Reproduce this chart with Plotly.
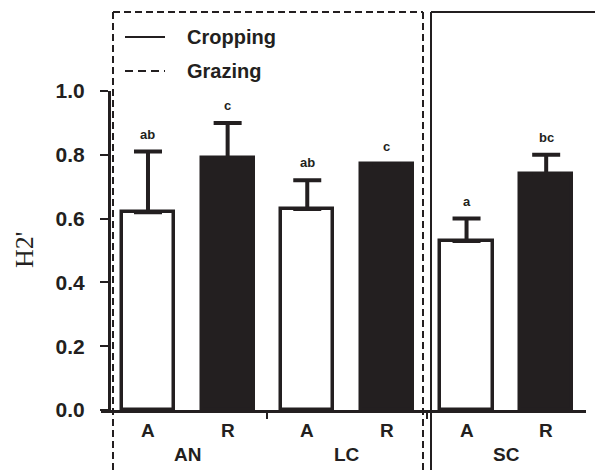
import plotly.graph_objects as go

# Data
treatments = ["A", "R", "A", "R", "A", "R"]
sites = ["AN", "LC", "SC"]
h2_values = [0.62, 0.79, 0.63, 0.77, 0.53, 0.74]
h2_errors = [0.19, 0.11, 0.09, 0.0, 0.07, 0.06]
letters = ["ab", "c", "ab", "c", "a", "bc"]
fill_colors = ["white", "#231f20", "white", "#231f20", "white", "#231f20"]
y_ticks = [0.0, 0.2, 0.4, 0.6, 0.8, 1.0]
legend_items = ["Cropping", "Grazing"]

W, H = 595, 470
ink = "#231f20"
xpos = list(range(len(h2_values)))

fig = go.Figure()
fig.add_trace(go.Bar(
    x=xpos, y=h2_values, width=0.655,
    marker=dict(color=fill_colors, line=dict(color=ink, width=3.5)),
    error_y=dict(type="data", array=h2_errors, arrayminus=[0]*len(h2_errors),
                 symmetric=False, color=ink, thickness=4, width=14, visible=True),
    showlegend=False,
))

bold = dict(family="Liberation Sans, Arial, sans-serif", color=ink)

# significance letters
for xi, v, e, t in zip(xpos, h2_values, h2_errors, letters):
    fig.add_annotation(x=xi, y=v + e, text=f"<b>{t}</b>", showarrow=False,
                       yanchor="bottom", yshift=8, font=dict(size=13, **bold))

# treatment labels
for xi, t in zip(xpos, treatments):
    fig.add_annotation(x=xi, y=(H - 430) / H, yref="paper", text=f"<b>{t}</b>",
                       showarrow=False, yanchor="middle", font=dict(size=19, **bold))
# site labels
for k, s in enumerate(sites):
    fig.add_annotation(x=(xpos[2*k] + xpos[2*k+1]) / 2, y=(H - 454) / H, yref="paper",
                       text=f"<b>{s}</b>", showarrow=False, yanchor="middle",
                       font=dict(size=19, **bold))

# y title
fig.add_annotation(x=24 / W, y=(H - 250) / H, xref="paper", yref="paper", text="H2'",
                   showarrow=False, textangle=-90, xanchor="center", yanchor="middle",
                   font=dict(family="Liberation Serif, Times New Roman, serif", size=26, color=ink))

# frames
def px(x): return x / W
def py(y): return (H - y) / H
dash = "7px,4px"
fig.add_shape(type="line", xref="paper", yref="paper", x0=px(113), x1=px(113), y0=py(470), y1=py(12),
              line=dict(color=ink, width=2, dash=dash))
fig.add_shape(type="line", xref="paper", yref="paper", x0=px(113), x1=px(423), y0=py(12), y1=py(12),
              line=dict(color=ink, width=2, dash=dash))
fig.add_shape(type="line", xref="paper", yref="paper", x0=px(423), x1=px(423), y0=py(12), y1=py(470),
              line=dict(color=ink, width=2, dash=dash))
fig.add_shape(type="line", xref="paper", yref="paper", x0=px(431), x1=px(431), y0=py(470), y1=py(12),
              line=dict(color=ink, width=2))
fig.add_shape(type="line", xref="paper", yref="paper", x0=px(431), x1=px(595), y0=py(12), y1=py(12),
              line=dict(color=ink, width=2))

# legend
for i, (lab, d) in enumerate(zip(legend_items, ["solid", "8px,5px"])):
    yy = 37 + 34 * i
    fig.add_shape(type="line", xref="paper", yref="paper", x0=px(125), x1=px(165), y0=py(yy), y1=py(yy),
                  line=dict(color=ink, width=2, dash=d))
    fig.add_annotation(x=px(185), y=py(yy), xref="paper", yref="paper", text=f"<b>{lab}</b>",
                       showarrow=False, xanchor="left", yanchor="middle", font=dict(size=20, **bold))

fig.update_layout(
    width=W, height=H, margin=dict(l=0, r=0, t=0, b=0, autoexpand=False),
    paper_bgcolor="white", plot_bgcolor="white", bargap=0,
    xaxis=dict(domain=[px(101), px(586)], range=[-0.59, 5.5], showgrid=False, zeroline=False,
               showline=True, linecolor=ink, linewidth=2.5, automargin=False,
               tickvals=[1.5, 3.5], ticks="outside", ticklen=6, tickwidth=2, tickcolor=ink,
               showticklabels=False),
    yaxis=dict(domain=[py(410), py(91)], range=[0, 1.0], anchor="free", position=px(109),
               showgrid=False, zeroline=False, showline=True, linecolor=ink, linewidth=3,
               automargin=False,
               tickvals=y_ticks, ticktext=[f"<b>{v:.1f}</b>" for v in y_ticks],
               ticks="outside", ticklen=8, tickwidth=2, tickcolor=ink,
               ticklabelstandoff=11, tickfont=dict(size=21, **bold)),
)

fig.write_html("out.html")
